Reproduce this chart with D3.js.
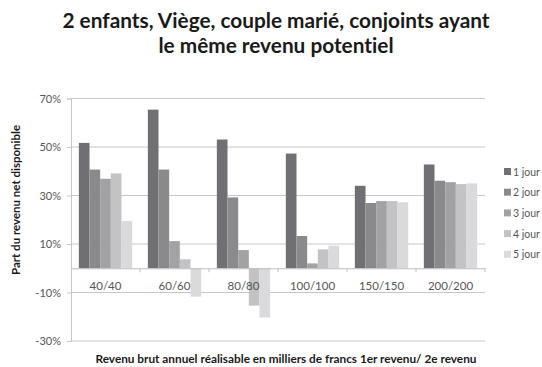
<!DOCTYPE html>
<html>
<head>
<meta charset="utf-8">
<script src="https://cdn.jsdelivr.net/npm/d3@7"></script>
<style>
  html, body { margin: 0; padding: 0; background: #ffffff; }
  svg { display: block; font-family: Lato, "Open Sans", sans-serif; font-variant-ligatures: none; }
</style>
</head>
<body>
<svg id="chart" width="542" height="367"></svg>
<script>
// Part du revenu net disponible, par revenu brut et nombre de jours de garde
const categories = ["40/40", "60/60", "80/80", "100/100", "150/150", "200/200"];
const seriesNames = ["1 jour", "2 jour", "3 jour", "4 jour", "5 jour"];
const jour1 = [51.7, 65.4, 53.1, 47.3, 34.0, 42.8];
const jour2 = [40.7, 40.7, 29.2, 13.3, 26.9, 36.1];
const jour3 = [36.9, 11.2, 7.5, 2.0, 27.7, 35.5];
const jour4 = [39.1, 3.7, -15.4, 7.8, 27.7, 34.7];
const jour5 = [19.5, -11.7, -20.3, 9.3, 27.2, 35.0];
const yTicks = [-30, -10, 10, 30, 50, 70];
const colors = ["#707074", "#8a8a8d", "#a2a2a5", "#c3c3c5", "#dadadc"];

const series = [jour1, jour2, jour3, jour4, jour5];

const svg = d3.select("#chart");
const W = 542, H = 367;
const plot = { left: 71, right: 485, top: 98.5, bottom: 341 };

svg.append("rect").attr("width", W).attr("height", H).attr("fill", "#ffffff");

const y = d3.scaleLinear().domain([-30, 70]).range([plot.bottom, plot.top]);
const x0 = d3.scaleBand().domain(categories).range([plot.left, plot.right]).paddingInner(0).paddingOuter(0);
const x1 = d3.scaleBand().domain(seriesNames).range([0, x0.bandwidth()]).paddingOuter(0.735).paddingInner(0);

// Horizontal gridlines
svg.append("g").selectAll("line").data(yTicks).join("line")
  .attr("x1", plot.left).attr("x2", plot.right)
  .attr("y1", d => y(d)).attr("y2", d => y(d))
  .attr("stroke", "#c6c6c6").attr("stroke-width", 1);

// Bars
const groups = svg.append("g").selectAll("g").data(categories).join("g")
  .attr("transform", c => `translate(${x0(c)},0)`);
groups.selectAll("rect")
  .data((c, i) => series.map((s, k) => ({ name: seriesNames[k], value: s[i], k })))
  .join("rect")
  .attr("x", d => x1(d.name))
  .attr("width", x1.bandwidth())
  .attr("y", d => y(Math.max(0, d.value)))
  .attr("height", d => Math.abs(y(d.value) - y(0)))
  .attr("fill", d => colors[d.k]);

// Y axis
const yAxis = d3.axisLeft(y).tickValues(yTicks).tickFormat(d => d + "%").tickSize(4).tickPadding(6);
const gy = svg.append("g").attr("transform", `translate(${plot.left},0)`).call(yAxis);
gy.select(".domain").attr("stroke", "#c6c6c6");
gy.selectAll(".tick line").attr("stroke", "#c6c6c6");
gy.selectAll("text").attr("fill", "#555").attr("font-size", 11).attr("font-family", "Lato, sans-serif");

// X axis on the zero line
const xAxis = d3.axisBottom(x0).tickSize(0).tickPadding(14);
const gx = svg.append("g").attr("transform", `translate(0,${y(0)})`).call(xAxis);
gx.select(".domain").attr("stroke", "#bdbdbd");
gx.selectAll("text").attr("fill", "#555").attr("font-size", 11.5).attr("font-family", "Lato, sans-serif");
// Category separators
gx.append("g").selectAll("line").data(categories).join("line")
  .attr("x1", c => x0(c) + x0.bandwidth())
  .attr("x2", c => x0(c) + x0.bandwidth())
  .attr("y1", 0).attr("y2", 4)
  .attr("stroke", "#bdbdbd");

// Title
const title = svg.append("text").attr("text-anchor", "middle")
  .attr("font-weight", "bold").attr("font-size", 20.8).attr("fill", "#1a1a1a");
title.append("tspan").attr("x", 276).attr("y", 28).text("2 enfants, Viège, couple marié, conjoints ayant");
title.append("tspan").attr("x", 276).attr("y", 52.5).text("le même revenu potentiel");

// Axis titles
svg.append("text")
  .attr("transform", `translate(20,${200}) rotate(-90)`)
  .attr("text-anchor", "middle").attr("font-weight", "bold").attr("font-size", 11.5).attr("fill", "#1a1a1a")
  .text("Part du revenu net disponible");
svg.append("text")
  .attr("x", 286).attr("y", 363)
  .attr("text-anchor", "middle").attr("font-weight", "bold").attr("font-size", 11.8).attr("fill", "#1a1a1a")
  .text("Revenu brut annuel réalisable en milliers de francs 1er revenu/ 2e revenu");

// Legend
const legend = svg.append("g").selectAll("g").data(seriesNames).join("g")
  .attr("transform", (d, i) => `translate(504,${171.5 + i * 20.7})`);
legend.append("rect").attr("x", 0).attr("y", -3.5).attr("width", 7).attr("height", 7)
  .attr("fill", (d, i) => colors[i]);
legend.append("text").attr("x", 9).attr("y", 4).attr("font-size", 10.5).attr("fill", "#555")
  .text(d => d);
</script>
</body>
</html>
